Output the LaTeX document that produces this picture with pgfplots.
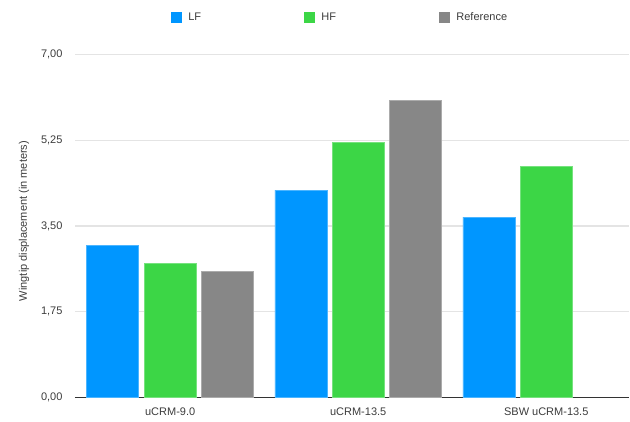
\documentclass[border=0pt]{standalone}
\usepackage{fontspec}
\setmainfont{Liberation Sans}
\usepackage{pgfplots}
\pgfplotsset{compat=1.18}
\definecolor{cLF}{RGB}{0,150,255}
\definecolor{cHF}{RGB}{60,214,70}
\definecolor{cRef}{RGB}{135,135,135}
\definecolor{grid}{RGB}{228,228,228}
\definecolor{txt}{RGB}{60,60,60}
\begin{document}
\begin{tikzpicture}
\useasboundingbox (0,0) rectangle (630pt,421pt);
\begin{axis}[
  at={(75pt,23.3pt)}, anchor=south west,
  scale only axis, width=554pt, height=343.4pt,
  ybar,
  bar width=52pt,
  xmin=-0.506, xmax=2.44,
  ymin=0, ymax=7,
  ytick={0,1.75,3.5,5.25,7},
  xtick={0,1,2},
  xticklabels={uCRM-9.0,uCRM-13.5,SBW uCRM-13.5},
  axis lines*=left,
  y axis line style={draw=none},
  x axis line style={draw=black!80, line width=0.8pt},
  major tick length=0pt,
  ymajorgrids,
  major grid style={draw=grid, line width=1.2pt},
  /pgf/number format/assume math mode=true,
  y tick label style={/pgf/number format/fixed, /pgf/number format/fixed zerofill, /pgf/number format/precision=2, /pgf/number format/use comma},
  tick label style={font=\fontsize{11}{13}\selectfont, text=txt},
  yticklabel style={xshift=-9pt},
  xticklabel style={yshift=-6.5pt},
  ylabel={Wingtip displacement (in meters)},
  ylabel style={at={(axis description cs:-0.092,0.5146)}, anchor=center, font=\fontsize{11}{13}\selectfont, text=txt},
  legend columns=3,
  legend style={at={(axis description cs:0.1733,1.108)}, anchor=west, draw=none, fill=none, inner sep=0pt, outer sep=0pt,
     font=\fontsize{11}{13}\selectfont, text=txt,
     /tikz/every even column/.append style={column sep=101pt},
     /tikz/every odd column/.append style={column sep=4.3pt}},
  legend image code/.code={\fill[#1, draw=none] (0pt,-5.5pt) rectangle (11pt,5.5pt);},
]
\addplot[fill=cLF, draw=cLF!70!white, line width=0.6pt, bar shift=-57.4pt] coordinates {(0,3.10) (1,4.23) (2,3.68)};
\addplot[fill=cHF, draw=cHF!70!white, line width=0.6pt, bar shift=0pt] coordinates {(0,2.74) (1,5.21) (2,4.72)};
\addplot[fill=cRef, draw=cRef!70!white, line width=0.6pt, bar shift=57.4pt] coordinates {(0,2.58) (1,6.06)};
\legend{LF,HF,Reference}
\end{axis}
\end{tikzpicture}
\end{document}
